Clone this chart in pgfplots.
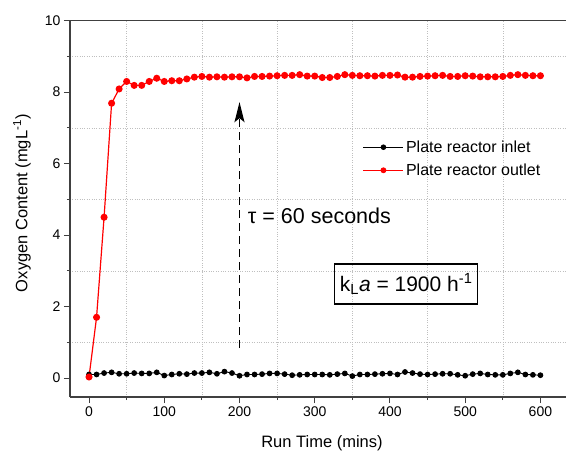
\documentclass[border=0pt]{standalone}
\usepackage{fontspec}
\setmainfont{Liberation Sans}
\usepackage{pgfplots}
\pgfplotsset{compat=1.18}
\usetikzlibrary{arrows.meta}
\begin{document}
\begin{tikzpicture}
\useasboundingbox (-70bp,-55bp) rectangle (496bp,397bp);
\begin{axis}[
  at={(0,0)}, anchor=south west,
  scale only axis, width=496bp, height=376.3bp,
  xmin=-25.3, xmax=634, ymin=-0.53, ymax=10,
  axis x line*=box, axis y line*=left,
  xtick={0,100,...,600}, ytick={0,2,...,10},
  minor x tick num=1, minor y tick num=1,
  tick align=outside, tick pos=left,
  major tick length=6bp, minor tick length=3bp,
  axis line style={draw=black!75, line width=1.2bp},
  every tick/.style={draw=black!75, line width=1bp},
  grid=minor,
  minor grid style={dotted, draw=gray!50, line width=0.6bp},
  tick label style={font=\fontsize{14bp}{16bp}\selectfont},
  /pgf/number format/assume math mode=true,
  xlabel={Run Time (mins)},
  ylabel={Oxygen Content (mgL\textsuperscript{-1})},
  label style={font=\fontsize{16.5bp}{19bp}\selectfont},
  xlabel style={at={(axis description cs:0.508,-0.122)}, anchor=center},
  ylabel style={at={(axis description cs:-0.097,0.515)}, anchor=center},
  legend style={at={(axis description cs:0.59,0.687)}, anchor=north west,
    draw=none, fill=none, font=\fontsize{16bp}{18bp}\selectfont,
    row sep=6bp, inner sep=0pt, cells={anchor=west}},
  legend image code/.code={\draw[mark repeat=2,mark phase=2,#1,mark size=2.3bp]
    plot coordinates {(0bp,0bp)(20bp,0bp)(40bp,0bp)};},
]
\addplot[black, line width=0.9bp, mark=*, mark size=2.4bp] coordinates {
(0,0.10)(10,0.10)(20,0.14)(30,0.16)(40,0.12)(50,0.12)(60,0.14)(70,0.13)(80,0.13)(90,0.16)
(100,0.07)(110,0.10)(120,0.12)(130,0.11)(140,0.14)(150,0.14)(160,0.16)(170,0.12)(180,0.18)(190,0.14)
(200,0.065)(210,0.10)(220,0.10)(230,0.11)(240,0.13)(250,0.13)(260,0.11)(270,0.08)(280,0.09)(290,0.10)
(300,0.10)(310,0.10)(320,0.09)(330,0.11)(340,0.13)(350,0.055)(360,0.10)(370,0.10)(380,0.11)(390,0.12)
(400,0.13)(410,0.10)(420,0.17)(430,0.14)(440,0.11)(450,0.10)(460,0.11)(470,0.12)(480,0.12)(490,0.09)
(500,0.065)(510,0.11)(520,0.13)(530,0.10)(540,0.09)(550,0.09)(560,0.13)(570,0.16)(580,0.10)(590,0.09)
(600,0.08)};
\addlegendentry{Plate reactor inlet}
\addplot[red, line width=1.2bp, mark=*, mark size=2.9bp] coordinates {
(0,0.03)(10,1.70)(20,4.50)(30,7.69)(40,8.09)(50,8.30)(60,8.19)(70,8.19)(80,8.30)(90,8.39)
(100,8.30)(110,8.32)(120,8.32)(130,8.37)(140,8.42)(150,8.44)(160,8.42)(170,8.43)(180,8.42)(190,8.43)
(200,8.43)(210,8.40)(220,8.44)(230,8.44)(240,8.45)(250,8.46)(260,8.47)(270,8.47)(280,8.49)(290,8.45)
(300,8.45)(310,8.41)(320,8.41)(330,8.44)(340,8.49)(350,8.47)(360,8.46)(370,8.46)(380,8.45)(390,8.47)
(400,8.47)(410,8.48)(420,8.42)(430,8.42)(440,8.44)(450,8.45)(460,8.46)(470,8.47)(480,8.44)(490,8.44)
(500,8.46)(510,8.45)(520,8.43)(530,8.43)(540,8.43)(550,8.44)(560,8.47)(570,8.49)(580,8.47)(590,8.46)
(600,8.46)};
\addlegendentry{Plate reactor outlet}
\draw[black, line width=1.6bp, dash pattern=on 8bp off 5bp,
  -{Stealth[length=20bp,width=10bp,inset=4bp]}] (axis cs:200,0.84) -- (axis cs:200,7.72);
\node[anchor=west, font=\fontsize{21.5bp}{25bp}\selectfont, inner sep=0pt]
  at (axis cs:211,4.55) {τ = 60 seconds};
\node[draw=black, line width=1.2bp, inner xsep=5bp, minimum height=40bp,
  font=\fontsize{21bp}{25bp}\selectfont]
  at (axis cs:421.5,2.63) {k\textsubscript{L}\textit{a} = 1900 h\textsuperscript{-1}};
\end{axis}
\end{tikzpicture}
\end{document}
